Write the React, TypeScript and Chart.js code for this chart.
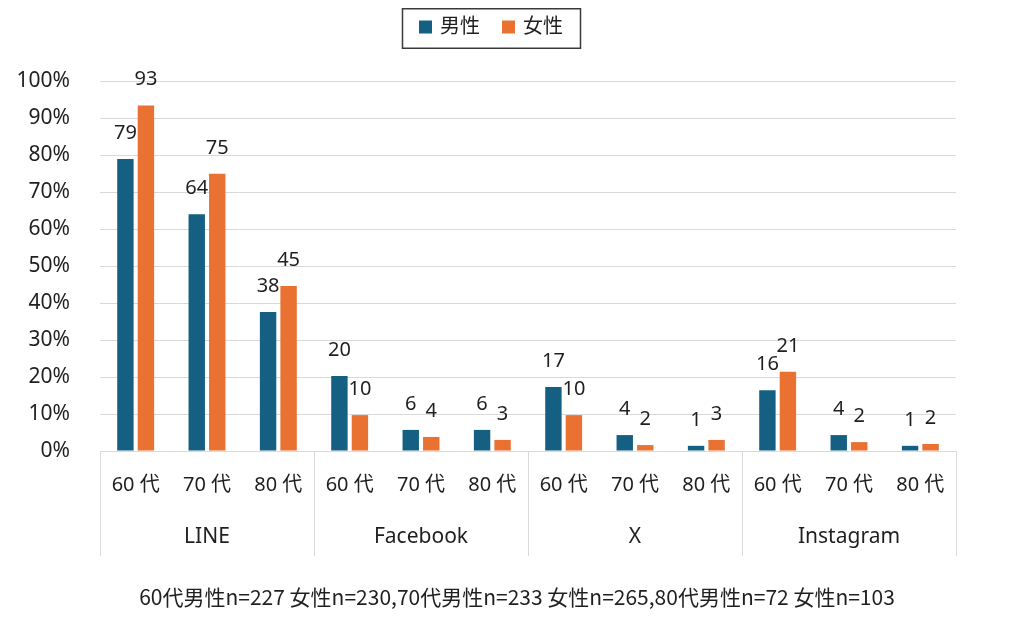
import React, { useEffect, useRef } from 'react';
import { Chart, registerables } from 'chart.js';

Chart.register(...registerables);

// ---- data ----
const platforms = ['LINE', 'Facebook', 'X', 'Instagram'];
const ages = ['60 代', '70 代', '80 代'];
const seriesNames = ['男性', '女性'];
const maleValues = [78.9, 64.0, 37.6, 20.3, 5.7, 5.7, 17.3, 4.3, 1.4, 16.4, 4.3, 1.4];
const femaleValues = [93.4, 74.9, 44.6, 9.7, 3.8, 3.0, 9.7, 1.6, 3.0, 21.4, 2.4, 1.9];
const yMax = 100;
const yStep = 10;
const footnote = '60代男性n=227 女性n=230,70代男性n=233 女性n=265,80代男性n=72 女性n=103';

// ---- style ----
const COLORS = ['#156082', '#E97132'];
const FONT = "'Noto Sans', 'Noto Sans CJK JP', sans-serif";
const TEXT = '#1f1f1f';
const GRID = '#d9d9d9';
const X_AXIS_HEIGHT = 105;

const categoryLabels: string[] = [];
platforms.forEach(() => ages.forEach((a) => categoryLabels.push(a)));

const extrasPlugin = {
  id: 'extras',
  afterDatasetsDraw(chart: any) {
    const ctx = chart.ctx;
    ctx.save();
    ctx.font = `20px ${FONT}`;
    ctx.fillStyle = TEXT;
    ctx.textAlign = 'center';
    ctx.textBaseline = 'middle';
    chart.data.datasets.forEach((ds: any, i: number) => {
      const meta = chart.getDatasetMeta(i);
      meta.data.forEach((el: any, j: number) => {
        const v = ds.data[j] as number;
        ctx.fillText(String(Math.round(v)), el.x, el.y - 26);
      });
    });
    ctx.restore();
  },
  afterDraw(chart: any) {
    const { ctx, chartArea, scales } = chart;
    const xs = scales.x;
    const catW = xs.getPixelForValue(1) - xs.getPixelForValue(0);
    const per = ages.length;
    ctx.save();
    // group separators
    ctx.strokeStyle = GRID;
    ctx.lineWidth = 1;
    for (let g = 0; g <= platforms.length; g++) {
      const px = Math.round(xs.getPixelForValue(g * per) - catW / 2) + 0.5;
      ctx.beginPath();
      ctx.moveTo(px, chartArea.bottom);
      ctx.lineTo(px, chartArea.bottom + X_AXIS_HEIGHT);
      ctx.stroke();
    }
    // platform labels
    ctx.font = `21px ${FONT}`;
    ctx.fillStyle = TEXT;
    ctx.textAlign = 'center';
    ctx.textBaseline = 'middle';
    platforms.forEach((p, g) => {
      const cx = xs.getPixelForValue(g * per + (per - 1) / 2);
      ctx.fillText(p, cx, chartArea.bottom + 86);
    });
    // footnote
    ctx.font = `21px 'Noto Sans CJK JP', sans-serif`;
    ctx.fillText(footnote, 509, 589);
    // legend
    ctx.font = `20px ${FONT}`;
    const bx = 394.5;
    const by = 0.75;
    const bw = 178;
    const bh = 39.5;
    ctx.strokeStyle = '#3a3a3a';
    ctx.lineWidth = 1.5;
    ctx.strokeRect(bx, by, bw, bh);
    let cx = 411;
    const cy = 19;
    ctx.textAlign = 'left';
    chart.data.datasets.forEach((ds: any) => {
      ctx.fillStyle = ds.backgroundColor;
      ctx.fillRect(cx, cy - 6.5, 13, 13);
      cx += 21;
      ctx.fillStyle = TEXT;
      ctx.fillText(ds.label, cx, cy);
      cx += ctx.measureText(ds.label).width + 22;
    });
    ctx.restore();
  },
};

export default function App() {
  const canvasRef = useRef<HTMLCanvasElement | null>(null);

  useEffect(() => {
    if (!canvasRef.current) return;
    const chart = new Chart(canvasRef.current, {
      type: 'bar',
      data: {
        labels: categoryLabels,
        datasets: [
          {
            label: seriesNames[0],
            data: maleValues,
            backgroundColor: COLORS[0],
            categoryPercentage: 0.575,
            barPercentage: 0.8,
          },
          {
            label: seriesNames[1],
            data: femaleValues,
            backgroundColor: COLORS[1],
            categoryPercentage: 0.575,
            barPercentage: 0.8,
          },
        ],
      },
      options: {
        responsive: true,
        maintainAspectRatio: false,
        animation: false,
        layout: { padding: { top: 73, right: 60, left: 0, bottom: 58 } },
        plugins: {
          legend: { display: false },
          tooltip: { enabled: false },
          title: { display: false },
        },
        scales: {
          x: {
            grid: { display: false },
            border: { display: false },
            ticks: {
              color: TEXT,
              font: { family: FONT, size: 20 },
              padding: 14,
              maxRotation: 0,
              autoSkip: false,
            },
            afterFit: (scale: any) => {
              scale.height = X_AXIS_HEIGHT;
            },
          },
          y: {
            min: 0,
            max: yMax,
            ticks: {
              stepSize: yStep,
              color: TEXT,
              font: { family: FONT, size: 21 },
              padding: 30,
              callback: (v: any) => `${v}%`,
            },
            grid: { color: GRID, drawTicks: false },
            border: { display: false },
            afterFit: (scale: any) => {
              scale.width = 92;
            },
          },
        },
      },
      plugins: [extrasPlugin],
    });
    return () => chart.destroy();
  }, []);

  return (
    <div style={{ width: 1008, height: 606, position: 'relative' }}>
      <canvas ref={canvasRef} />
    </div>
  );
}
